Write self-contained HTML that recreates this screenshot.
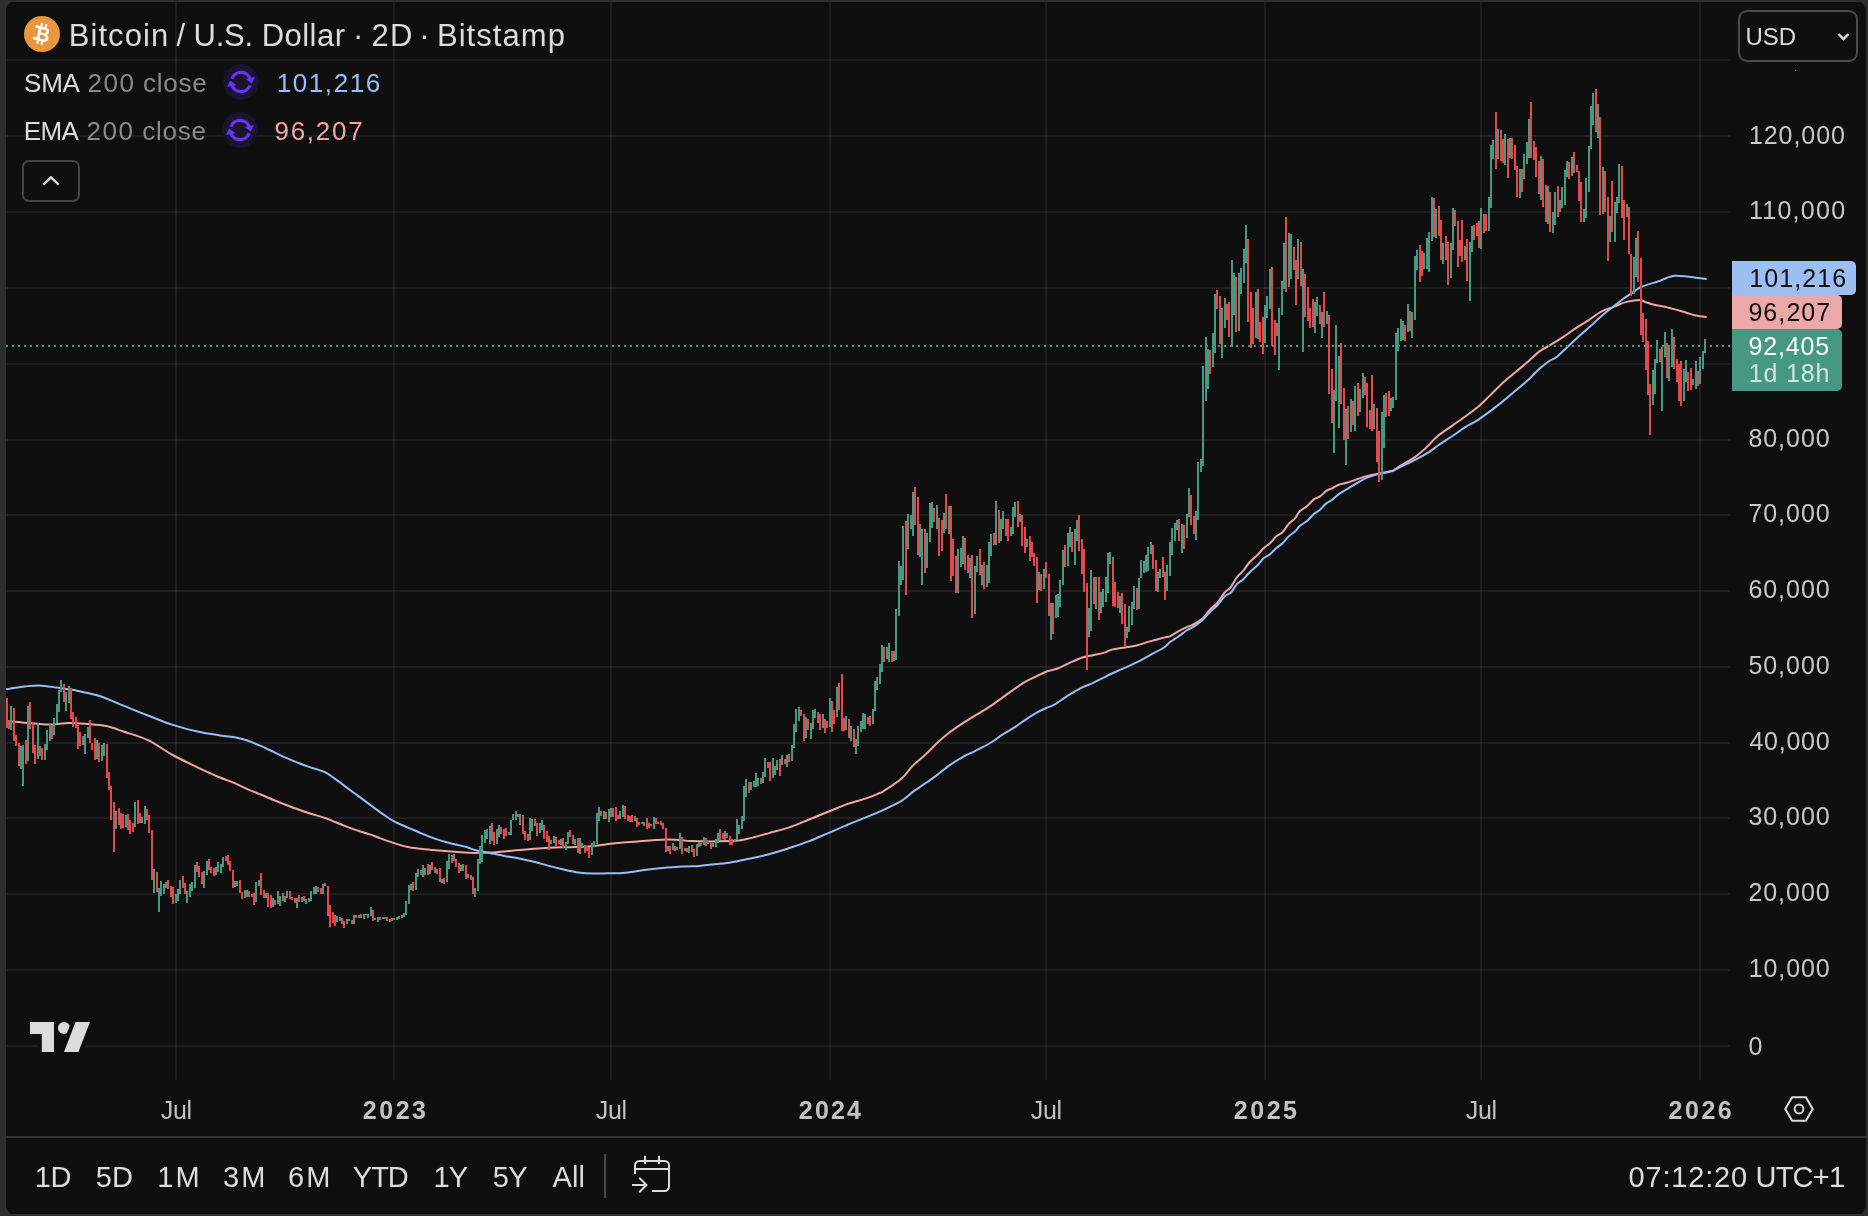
<!DOCTYPE html>
<html><head><meta charset="utf-8"><title>BTCUSD chart</title>
<style>
html,body{margin:0;padding:0;}
body{width:1868px;height:1216px;background:#2e2e2e;overflow:hidden;position:relative;font-family:"Liberation Sans",sans-serif;}
.panel{position:absolute;left:6px;top:2px;width:1860px;height:1212px;background:#0f0f0f;border-radius:8px;}
.chart{position:absolute;left:0;top:0;}
.abs{position:absolute;white-space:nowrap;}
.tx{position:absolute;white-space:pre;line-height:40px;font-family:"Liberation Sans",sans-serif;}
.box{position:absolute;left:1732px;border-radius:0 5px 5px 0;}
</style></head><body>
<div class="panel"></div>
<div style="position:absolute;left:0;top:0;width:1868px;height:1216px;will-change:transform">
<svg class="chart" width="1868" height="1216" viewBox="0 0 1868 1216" shape-rendering="crispEdges">
<g fill="#f2f2f2" fill-opacity="0.065"><rect x="6" y="1045" width="1724" height="2"/><rect x="6" y="969" width="1724" height="2"/><rect x="6" y="893" width="1724" height="2"/><rect x="6" y="817" width="1724" height="2"/><rect x="6" y="742" width="1724" height="2"/><rect x="6" y="666" width="1724" height="2"/><rect x="6" y="590" width="1724" height="2"/><rect x="6" y="514" width="1724" height="2"/><rect x="6" y="439" width="1724" height="2"/><rect x="6" y="363" width="1724" height="2"/><rect x="6" y="287" width="1724" height="2"/><rect x="6" y="211" width="1724" height="2"/><rect x="6" y="135" width="1724" height="2"/><rect x="6" y="59" width="1724" height="2"/><rect x="175" y="2" width="2" height="1078"/><rect x="393" y="2" width="2" height="1078"/><rect x="610" y="2" width="2" height="1078"/><rect x="829" y="2" width="2" height="1078"/><rect x="1045" y="2" width="2" height="1078"/><rect x="1264" y="2" width="2" height="1078"/><rect x="1480" y="2" width="2" height="1078"/><rect x="1699" y="2" width="2" height="1078"/></g>
<g fill="none" stroke-width="2" stroke-linejoin="round" stroke-linecap="butt" shape-rendering="geometricPrecision">
<path stroke="#f0a5a6" d="M6.2 720.8C9.3 721.1 17.5 722.1 24.7 722.7C31.9 723.3 41.9 724.6 49.3 724.6C56.7 724.6 62.4 723.0 69.0 722.9C75.6 722.8 82.6 723.6 88.8 724.1C95.0 724.6 100.2 724.9 106.0 726.1C111.8 727.3 116.3 729.1 123.3 731.5C130.3 733.9 139.8 736.3 148.0 740.2C156.2 744.1 164.5 750.5 172.7 755.0C180.9 759.5 189.4 763.5 197.3 767.3C205.2 771.0 214.0 775.0 220.0 777.5C226.0 780.0 228.9 780.7 233.4 782.6C237.9 784.5 242.4 787.0 246.8 788.9C251.2 790.8 255.7 792.4 260.1 794.3C264.6 796.1 269.5 798.3 273.5 800.0C277.5 801.7 280.6 802.9 284.2 804.3C287.8 805.7 290.9 806.8 294.9 808.3C298.9 809.8 303.4 811.4 308.3 813.0C313.2 814.6 319.9 816.2 324.4 817.7C328.9 819.2 331.5 820.5 335.1 822.0C338.7 823.5 341.8 824.9 345.8 826.4C349.8 827.9 355.2 829.8 359.2 831.1C363.2 832.4 366.3 833.2 369.9 834.4C373.5 835.6 376.6 836.9 380.6 838.4C384.6 839.9 389.5 841.7 394.0 843.1C398.5 844.5 402.9 846.0 407.4 846.9C411.9 847.8 416.4 848.2 420.8 848.7C425.2 849.2 429.7 849.7 434.1 850.1C438.6 850.5 443.0 850.9 447.5 851.2C452.0 851.6 457.5 852.0 460.9 852.2C464.3 852.5 465.7 852.6 468.0 852.7C470.3 852.8 471.2 852.9 474.8 852.9C478.4 852.9 484.7 852.8 489.6 852.5C494.5 852.2 499.5 851.8 504.4 851.4C509.3 851.0 514.3 850.4 519.2 850.0C524.1 849.6 529.1 849.2 534.0 848.8C538.9 848.4 543.9 848.0 548.8 847.7C553.7 847.5 558.7 847.4 563.6 847.3C568.5 847.2 573.5 847.2 578.4 847.0C583.3 846.8 588.3 846.8 593.3 846.3C598.2 845.8 603.2 844.6 608.1 844.0C613.0 843.4 618.0 842.9 622.9 842.5C627.8 842.1 632.8 841.8 637.7 841.4C642.6 841.0 647.6 840.6 652.5 840.3C657.4 840.0 662.4 839.6 667.3 839.6C672.2 839.6 678.3 840.1 682.1 840.3C685.9 840.5 685.4 840.8 690.0 841.0C694.6 841.2 703.1 841.4 709.7 841.4C716.3 841.4 724.5 841.2 729.5 841.0C734.5 840.8 736.1 840.8 739.4 840.4C742.7 840.0 744.3 839.6 749.2 838.4C754.1 837.2 762.4 834.9 769.0 833.1C775.6 831.3 782.1 829.8 788.7 827.6C795.3 825.4 801.9 822.3 808.5 819.7C815.1 817.1 821.6 814.4 828.2 811.8C834.8 809.2 841.3 806.2 847.9 803.9C854.5 801.6 862.4 799.7 867.7 797.9C873.0 796.1 877.0 794.1 879.5 793.0C882.0 791.9 879.4 793.9 883.0 791.5C886.6 789.1 896.4 783.0 901.4 778.7C906.4 774.4 908.8 769.7 912.9 765.6C917.0 761.5 922.0 757.9 926.1 754.0C930.2 750.1 933.8 746.0 937.6 742.5C941.4 739.0 945.0 735.9 949.1 732.7C953.2 729.6 957.8 726.5 962.2 723.6C966.6 720.7 970.7 718.3 975.4 715.4C980.1 712.5 985.8 709.2 990.2 706.3C994.6 703.4 997.9 700.8 1001.7 698.1C1005.5 695.4 1009.4 692.5 1013.2 689.9C1017.0 687.2 1020.9 684.5 1024.7 682.2C1028.5 680.0 1032.7 678.1 1036.3 676.4C1039.9 674.7 1042.5 673.1 1046.1 671.8C1049.6 670.5 1053.8 670.0 1057.6 668.5C1061.4 667.0 1065.0 664.9 1069.1 663.1C1073.2 661.3 1078.4 658.8 1082.3 657.5C1086.2 656.2 1088.6 656.2 1092.2 655.4C1095.8 654.6 1100.4 653.9 1103.7 652.9C1107.0 651.9 1108.3 650.5 1111.9 649.6C1115.5 648.7 1121.0 648.3 1125.1 647.6C1129.2 646.9 1132.5 646.5 1136.6 645.5C1140.7 644.5 1145.1 642.7 1149.7 641.4C1154.3 640.1 1160.6 638.5 1164.0 637.6C1167.4 636.8 1167.7 637.3 1170.0 636.3C1172.3 635.3 1174.9 633.2 1177.8 631.6C1180.7 630.0 1184.6 628.1 1187.2 626.9C1189.8 625.7 1190.8 625.9 1193.4 624.5C1196.0 623.1 1199.9 620.9 1202.8 618.3C1205.7 615.7 1208.2 611.4 1210.6 608.9C1212.9 606.4 1214.6 606.1 1216.9 603.4C1219.2 600.7 1222.4 595.2 1224.7 592.5C1227.0 589.8 1228.8 589.6 1230.9 587.0C1233.0 584.4 1235.1 579.6 1237.2 576.9C1239.3 574.2 1241.3 573.1 1243.4 570.6C1245.5 568.1 1247.4 564.6 1249.7 562.0C1252.0 559.4 1255.2 557.3 1257.5 555.0C1259.8 552.7 1261.7 550.0 1263.8 548.0C1265.9 546.0 1267.9 545.2 1270.0 543.3C1272.1 541.3 1274.2 538.1 1276.3 536.3C1278.4 534.5 1280.4 534.4 1282.5 532.3C1284.6 530.2 1286.7 526.1 1288.8 523.8C1290.9 521.5 1293.2 520.4 1295.0 518.3C1296.8 516.2 1297.6 513.4 1299.7 511.3C1301.8 509.2 1305.2 507.8 1307.5 505.8C1309.8 503.8 1311.7 501.1 1313.8 499.5C1315.9 497.9 1317.9 497.8 1320.0 496.4C1322.1 495.0 1324.2 492.3 1326.3 490.9C1328.4 489.5 1330.4 489.1 1332.5 488.1C1334.6 487.1 1336.5 485.6 1338.8 484.7C1341.1 483.8 1344.0 483.5 1346.6 482.8C1349.2 482.1 1351.5 481.3 1354.4 480.3C1357.3 479.3 1360.9 477.8 1363.8 476.9C1366.7 476.0 1369.0 475.6 1371.6 475.0C1374.2 474.4 1376.5 473.9 1379.4 473.4C1382.3 472.9 1386.5 472.4 1388.8 471.9C1391.1 471.4 1391.5 471.6 1393.4 470.6C1395.3 469.6 1396.3 468.2 1400.0 465.9C1403.7 463.6 1411.2 459.7 1415.6 456.6C1420.0 453.5 1422.9 450.6 1426.6 447.2C1430.2 443.8 1433.3 439.8 1437.5 436.3C1441.7 432.8 1447.2 429.3 1451.6 426.1C1456.0 422.9 1459.9 420.2 1464.1 417.2C1468.3 414.2 1472.4 411.6 1476.6 408.1C1480.8 404.6 1484.9 400.4 1489.1 396.4C1493.3 392.4 1497.4 387.8 1501.6 383.9C1505.8 380.0 1509.9 376.8 1514.1 373.3C1518.3 369.8 1522.4 366.4 1526.6 362.8C1530.8 359.2 1535.3 354.5 1539.1 351.6C1542.9 348.7 1545.0 348.2 1549.2 345.6C1553.4 343.1 1559.5 339.3 1564.1 336.3C1568.7 333.3 1572.4 330.4 1576.6 327.7C1580.8 324.9 1584.9 322.5 1589.1 319.8C1593.3 317.1 1597.4 313.5 1601.6 311.3C1605.8 309.1 1609.9 308.2 1614.1 306.6C1618.3 305.0 1622.3 303.0 1626.6 301.9C1630.9 300.8 1637.0 300.0 1640.0 300.0C1643.0 300.0 1642.2 301.0 1644.6 301.8C1646.9 302.6 1650.3 303.9 1654.1 304.8C1657.9 305.7 1663.5 306.5 1667.3 307.4C1671.1 308.2 1673.6 309.0 1676.8 309.9C1680.0 310.8 1683.1 311.8 1686.3 312.7C1689.5 313.6 1692.3 314.9 1695.7 315.6C1699.1 316.3 1704.9 316.9 1706.7 317.1"/>
<path stroke="#98bdf6" d="M6.2 689.1C9.3 688.7 19.1 687.2 24.7 686.6C30.2 686.0 34.2 685.2 39.5 685.4C44.8 685.6 51.0 686.8 56.7 687.6C62.5 688.4 67.0 688.7 74.0 690.1C81.0 691.5 90.5 693.2 98.7 695.8C106.9 698.4 115.1 702.3 123.3 705.6C131.5 708.9 139.8 712.3 148.0 715.5C156.2 718.7 164.5 722.2 172.7 724.9C180.9 727.6 189.4 729.8 197.3 731.5C205.2 733.2 213.5 734.4 220.0 735.4C226.5 736.4 231.6 736.6 236.1 737.4C240.6 738.2 242.8 738.9 246.8 740.3C250.8 741.7 255.7 743.8 260.1 745.7C264.6 747.6 269.0 749.8 273.5 751.9C278.0 754.0 282.9 756.3 286.9 758.1C290.9 759.9 294.0 761.2 297.6 762.6C301.2 764.0 303.8 765.1 308.3 766.6C312.8 768.1 319.9 769.9 324.4 771.9C328.9 773.9 331.5 776.4 335.1 778.9C338.7 781.4 341.8 783.9 345.8 786.9C349.8 789.9 355.2 793.6 359.2 796.6C363.2 799.6 365.9 801.6 369.9 804.6C373.9 807.6 379.3 811.6 383.3 814.4C387.3 817.2 390.0 819.2 394.0 821.4C398.0 823.5 402.9 825.3 407.4 827.3C411.9 829.2 416.4 831.2 420.8 833.1C425.2 835.0 429.7 836.8 434.1 838.4C438.6 840.0 443.5 841.4 447.5 842.5C451.5 843.6 454.8 844.3 458.2 845.1C461.6 845.9 465.2 846.7 468.0 847.5C470.8 848.3 471.2 849.1 474.8 850.0C478.4 850.9 484.7 851.9 489.6 852.9C494.5 853.9 499.5 855.0 504.4 855.9C509.3 856.8 514.3 857.4 519.2 858.4C524.1 859.4 529.1 860.5 534.0 861.8C538.9 863.0 543.9 864.6 548.8 865.9C553.7 867.2 558.7 868.4 563.6 869.5C568.5 870.6 573.5 871.8 578.4 872.5C583.3 873.2 588.3 873.5 593.3 873.6C598.2 873.7 603.2 873.4 608.1 873.3C613.0 873.2 618.0 873.3 622.9 872.9C627.8 872.5 632.8 871.7 637.7 871.0C642.6 870.3 647.6 869.5 652.5 868.9C657.4 868.3 662.4 867.8 667.3 867.4C672.2 867.0 676.6 866.8 682.1 866.5C687.6 866.2 695.4 866.2 700.0 865.9C704.6 865.6 704.8 865.2 709.7 864.7C714.6 864.2 722.9 863.7 729.5 862.7C736.1 861.7 742.6 860.2 749.2 858.8C755.8 857.4 762.4 856.0 769.0 854.2C775.6 852.5 782.1 850.4 788.7 848.3C795.3 846.2 801.9 843.9 808.5 841.4C815.1 838.9 821.6 835.9 828.2 833.1C834.8 830.3 841.3 827.3 847.9 824.6C854.5 821.9 861.9 819.1 867.7 816.7C873.6 814.3 877.4 812.7 883.0 810.1C888.6 807.5 896.4 803.9 901.4 800.9C906.4 797.9 908.8 794.9 912.9 791.9C917.0 788.9 922.0 785.7 926.1 782.8C930.2 779.9 933.8 777.5 937.6 774.6C941.4 771.7 945.0 768.5 949.1 765.6C953.2 762.7 957.8 759.8 962.2 757.3C966.6 754.8 970.7 753.2 975.4 750.8C980.1 748.4 985.8 745.6 990.2 743.0C994.6 740.4 997.9 737.6 1001.7 735.1C1005.5 732.6 1009.4 730.7 1013.2 728.2C1017.0 725.7 1020.9 722.8 1024.7 720.3C1028.5 717.8 1032.7 714.9 1036.3 712.9C1039.9 710.9 1043.1 709.4 1046.1 708.0C1049.1 706.6 1050.5 706.9 1054.3 704.7C1058.1 702.5 1064.4 697.7 1069.1 694.8C1073.8 691.9 1078.4 689.3 1082.3 687.4C1086.2 685.5 1088.6 684.9 1092.2 683.3C1095.8 681.7 1100.4 679.2 1103.7 677.6C1107.0 676.0 1108.3 675.1 1111.9 673.5C1115.5 671.9 1121.0 669.6 1125.1 667.7C1129.2 665.9 1132.5 664.5 1136.6 662.4C1140.7 660.3 1145.1 657.9 1149.7 655.4C1154.3 652.9 1160.6 649.7 1164.0 647.5C1167.4 645.3 1167.7 643.8 1170.0 642.0C1172.3 640.2 1174.9 639.0 1177.8 637.0C1180.7 635.0 1184.6 631.7 1187.2 630.0C1189.8 628.3 1190.8 628.6 1193.4 626.9C1196.0 625.2 1199.9 622.4 1202.8 619.8C1205.7 617.2 1208.2 613.6 1210.6 611.3C1212.9 609.0 1214.6 608.3 1216.9 605.8C1219.2 603.3 1222.4 598.6 1224.7 596.4C1227.0 594.2 1228.8 594.6 1230.9 592.5C1233.0 590.4 1235.1 586.1 1237.2 583.9C1239.3 581.7 1241.3 581.2 1243.4 579.2C1245.5 577.2 1247.4 574.5 1249.7 572.2C1252.0 569.9 1255.2 567.6 1257.5 565.2C1259.8 562.9 1261.7 559.9 1263.8 558.1C1265.9 556.3 1267.9 555.9 1270.0 554.2C1272.1 552.5 1274.2 549.8 1276.3 548.0C1278.4 546.2 1280.4 545.2 1282.5 543.3C1284.6 541.3 1286.7 538.2 1288.8 536.3C1290.9 534.3 1293.2 533.3 1295.0 531.6C1296.8 529.9 1297.6 527.9 1299.7 526.1C1301.8 524.3 1305.2 522.6 1307.5 520.6C1309.8 518.6 1311.7 515.9 1313.8 514.1C1315.9 512.3 1317.9 511.5 1320.0 509.7C1322.1 507.9 1324.2 505.1 1326.3 503.4C1328.4 501.7 1330.4 501.1 1332.5 499.5C1334.6 497.9 1336.5 495.8 1338.8 494.1C1341.1 492.4 1344.0 491.0 1346.6 489.4C1349.2 487.8 1351.5 486.4 1354.4 484.7C1357.3 483.0 1360.9 480.6 1363.8 479.2C1366.7 477.8 1369.0 477.0 1371.6 476.1C1374.2 475.2 1376.5 474.6 1379.4 473.8C1382.3 473.0 1386.5 471.9 1388.8 471.4C1391.1 470.9 1391.5 471.3 1393.4 470.6C1395.3 469.9 1396.3 468.8 1400.0 467.0C1403.7 465.2 1410.9 462.1 1415.6 459.7C1420.3 457.3 1424.2 455.2 1428.1 452.7C1432.0 450.2 1434.9 447.7 1439.1 444.8C1443.3 441.9 1448.7 438.5 1453.1 435.5C1457.5 432.5 1461.4 429.5 1465.6 426.9C1469.8 424.3 1473.9 422.5 1478.1 419.8C1482.3 417.1 1486.4 414.0 1490.6 410.9C1494.8 407.8 1498.9 404.5 1503.1 401.1C1507.3 397.7 1511.4 394.1 1515.6 390.6C1519.8 387.1 1524.2 383.6 1528.1 380.0C1532.0 376.4 1535.4 372.4 1539.1 369.1C1542.8 365.9 1547.1 362.5 1550.0 360.5C1552.9 358.5 1553.3 359.7 1556.3 357.3C1559.3 354.9 1564.4 349.8 1568.0 346.4C1571.6 343.0 1574.3 340.4 1578.1 337.0C1581.9 333.6 1586.7 329.6 1590.6 326.1C1594.5 322.6 1597.9 319.0 1601.6 315.9C1605.2 312.8 1608.9 310.1 1612.5 307.3C1616.1 304.5 1619.8 301.5 1623.4 298.8C1627.1 296.1 1631.6 293.2 1634.4 291.3C1637.2 289.4 1637.7 288.6 1640.0 287.5C1642.3 286.4 1645.4 285.4 1648.4 284.4C1651.4 283.4 1654.8 282.6 1657.9 281.5C1661.1 280.4 1664.5 278.6 1667.3 277.7C1670.1 276.8 1671.7 276.0 1674.9 275.8C1678.1 275.6 1682.8 276.1 1686.3 276.4C1689.8 276.7 1692.3 277.2 1695.7 277.7C1699.1 278.1 1704.9 278.9 1706.7 279.1"/>
</g>
<path fill="#479881" d="M10 706h2v24h-2zM20 746h2v23h-2zM22 745h2v41h-2zM27 706h2v55h-2zM37 723h2v36h-2zM44 744h2v16h-2zM46 730h2v20h-2zM49 724h2v17h-2zM53 718h2v17h-2zM56 704h2v19h-2zM58 690h2v22h-2zM60 680h2v12h-2zM65 692h2v19h-2zM68 686h2v17h-2zM82 736h2v9h-2zM84 734h2v20h-2zM87 727h2v11h-2zM96 740h2v19h-2zM101 745h2v16h-2zM103 743h2v13h-2zM115 811h2v18h-2zM125 815h2v12h-2zM134 802h2v25h-2zM141 817h2v6h-2zM144 806h2v18h-2zM153 869h2v24h-2zM158 888h2v24h-2zM160 881h2v15h-2zM163 884h2v10h-2zM165 882h2v6h-2zM175 894h2v9h-2zM177 889h2v12h-2zM179 880h2v14h-2zM186 891h2v12h-2zM189 884h2v13h-2zM191 882h2v9h-2zM194 865h2v23h-2zM203 871h2v17h-2zM206 861h2v14h-2zM215 867h2v8h-2zM217 862h2v10h-2zM220 864h2v9h-2zM222 857h2v10h-2zM234 881h2v6h-2zM236 881h2v5h-2zM244 890h2v8h-2zM246 890h2v7h-2zM255 882h2v20h-2zM258 880h2v6h-2zM265 893h2v5h-2zM272 898h2v9h-2zM277 891h2v13h-2zM279 896h2v10h-2zM284 896h2v6h-2zM286 891h2v7h-2zM296 898h2v10h-2zM301 897h2v5h-2zM305 899h2v5h-2zM308 898h2v4h-2zM310 891h2v10h-2zM313 887h2v7h-2zM315 886h2v8h-2zM322 884h2v10h-2zM336 916h2v6h-2zM339 917h2v4h-2zM346 919h2v5h-2zM348 919h2v2h-2zM353 915h2v9h-2zM358 915h2v3h-2zM363 914h2v5h-2zM365 914h2v1h-2zM367 914h2v4h-2zM370 907h2v9h-2zM374 918h2v2h-2zM377 917h2v5h-2zM382 917h2v2h-2zM384 917h2v2h-2zM389 919h2v3h-2zM393 918h2v2h-2zM396 917h2v3h-2zM398 916h2v3h-2zM401 915h2v3h-2zM403 913h2v4h-2zM405 901h2v14h-2zM408 885h2v19h-2zM410 884h2v6h-2zM415 873h2v17h-2zM417 869h2v8h-2zM422 865h2v12h-2zM424 868h2v7h-2zM429 865h2v9h-2zM436 869h2v5h-2zM441 879h2v4h-2zM446 861h2v21h-2zM448 854h2v15h-2zM453 854h2v7h-2zM460 865h2v6h-2zM462 864h2v7h-2zM467 874h2v4h-2zM474 888h2v9h-2zM477 859h2v32h-2zM479 846h2v18h-2zM481 835h2v27h-2zM484 830h2v13h-2zM486 829h2v10h-2zM489 826h2v18h-2zM496 829h2v15h-2zM498 825h2v12h-2zM508 832h2v3h-2zM510 820h2v15h-2zM512 814h2v6h-2zM515 811h2v9h-2zM519 814h2v11h-2zM529 818h2v22h-2zM531 819h2v12h-2zM539 823h2v10h-2zM541 820h2v10h-2zM550 840h2v4h-2zM553 836h2v7h-2zM560 839h2v6h-2zM565 842h2v8h-2zM567 832h2v12h-2zM574 839h2v6h-2zM579 838h2v16h-2zM581 843h2v4h-2zM591 843h2v12h-2zM593 841h2v6h-2zM596 813h2v31h-2zM598 807h2v14h-2zM603 811h2v8h-2zM608 809h2v13h-2zM610 808h2v9h-2zM619 811h2v8h-2zM622 805h2v12h-2zM634 816h2v5h-2zM641 822h2v2h-2zM643 822h2v4h-2zM653 817h2v12h-2zM667 846h2v5h-2zM672 843h2v7h-2zM676 847h2v3h-2zM679 833h2v16h-2zM684 848h2v3h-2zM688 846h2v7h-2zM696 844h2v12h-2zM698 842h2v5h-2zM703 837h2v8h-2zM707 841h2v3h-2zM712 843h2v4h-2zM715 839h2v8h-2zM717 833h2v10h-2zM724 831h2v9h-2zM734 839h2v3h-2zM736 819h2v21h-2zM738 825h2v9h-2zM741 816h2v13h-2zM743 786h2v35h-2zM745 779h2v18h-2zM750 782h2v8h-2zM753 781h2v6h-2zM755 773h2v14h-2zM757 778h2v8h-2zM762 772h2v11h-2zM764 758h2v19h-2zM772 758h2v20h-2zM774 766h2v9h-2zM776 760h2v10h-2zM781 755h2v10h-2zM786 755h2v12h-2zM791 745h2v16h-2zM793 724h2v24h-2zM795 709h2v23h-2zM798 707h2v14h-2zM805 717h2v21h-2zM810 723h2v16h-2zM812 710h2v19h-2zM814 709h2v9h-2zM822 714h2v14h-2zM829 698h2v29h-2zM836 687h2v30h-2zM845 716h2v14h-2zM850 726h2v15h-2zM855 739h2v15h-2zM857 726h2v20h-2zM860 721h2v11h-2zM862 713h2v16h-2zM864 714h2v15h-2zM872 709h2v15h-2zM874 681h2v30h-2zM876 677h2v13h-2zM879 664h2v20h-2zM881 645h2v27h-2zM886 647h2v12h-2zM888 643h2v19h-2zM893 651h2v10h-2zM895 609h2v51h-2zM898 561h2v55h-2zM900 566h2v19h-2zM902 526h2v54h-2zM907 514h2v35h-2zM910 515h2v14h-2zM912 492h2v44h-2zM919 524h2v33h-2zM921 529h2v56h-2zM926 533h2v35h-2zM929 503h2v39h-2zM931 502h2v26h-2zM936 505h2v24h-2zM943 513h2v20h-2zM948 506h2v28h-2zM957 549h2v44h-2zM960 548h2v19h-2zM962 536h2v28h-2zM969 558h2v20h-2zM974 566h2v48h-2zM976 556h2v16h-2zM981 565h2v20h-2zM986 565h2v22h-2zM988 542h2v41h-2zM990 534h2v22h-2zM995 501h2v44h-2zM1000 519h2v22h-2zM1002 511h2v18h-2zM1010 527h2v9h-2zM1012 507h2v27h-2zM1014 502h2v15h-2zM1019 514h2v8h-2zM1026 539h2v8h-2zM1038 572h2v18h-2zM1043 569h2v20h-2zM1050 603h2v37h-2zM1055 595h2v23h-2zM1057 594h2v23h-2zM1059 580h2v27h-2zM1062 550h2v35h-2zM1067 533h2v33h-2zM1069 527h2v20h-2zM1074 529h2v36h-2zM1076 520h2v21h-2zM1088 608h2v29h-2zM1090 570h2v61h-2zM1095 577h2v32h-2zM1100 592h2v21h-2zM1102 589h2v18h-2zM1105 577h2v25h-2zM1107 553h2v40h-2zM1109 552h2v12h-2zM1119 596h2v17h-2zM1126 627h2v11h-2zM1128 606h2v26h-2zM1131 602h2v23h-2zM1133 586h2v23h-2zM1138 578h2v31h-2zM1140 560h2v18h-2zM1143 561h2v12h-2zM1145 555h2v17h-2zM1147 547h2v24h-2zM1150 542h2v12h-2zM1157 572h2v20h-2zM1159 569h2v9h-2zM1166 565h2v26h-2zM1169 542h2v34h-2zM1171 528h2v27h-2zM1174 523h2v18h-2zM1176 520h2v10h-2zM1181 524h2v29h-2zM1186 514h2v24h-2zM1188 488h2v29h-2zM1195 511h2v29h-2zM1197 462h2v58h-2zM1200 459h2v13h-2zM1202 366h2v100h-2zM1205 337h2v64h-2zM1207 349h2v40h-2zM1212 333h2v34h-2zM1214 294h2v59h-2zM1221 308h2v50h-2zM1224 298h2v30h-2zM1231 260h2v87h-2zM1233 273h2v42h-2zM1238 273h2v58h-2zM1240 268h2v26h-2zM1243 249h2v34h-2zM1245 225h2v38h-2zM1255 292h2v46h-2zM1264 305h2v38h-2zM1266 296h2v22h-2zM1269 269h2v40h-2zM1278 308h2v62h-2zM1281 281h2v34h-2zM1283 243h2v46h-2zM1288 233h2v54h-2zM1290 234h2v45h-2zM1297 239h2v40h-2zM1302 269h2v83h-2zM1314 302h2v31h-2zM1316 297h2v19h-2zM1321 312h2v26h-2zM1326 311h2v13h-2zM1333 390h2v63h-2zM1335 325h2v76h-2zM1338 356h2v72h-2zM1345 409h2v56h-2zM1350 399h2v33h-2zM1354 386h2v45h-2zM1359 389h2v23h-2zM1362 373h2v25h-2zM1373 404h2v25h-2zM1381 412h2v68h-2zM1383 395h2v53h-2zM1390 398h2v13h-2zM1392 397h2v11h-2zM1395 333h2v67h-2zM1397 328h2v23h-2zM1400 319h2v22h-2zM1402 321h2v19h-2zM1407 304h2v28h-2zM1411 312h2v26h-2zM1414 256h2v64h-2zM1416 250h2v20h-2zM1423 253h2v16h-2zM1426 238h2v31h-2zM1428 232h2v40h-2zM1431 197h2v44h-2zM1435 209h2v29h-2zM1442 243h2v21h-2zM1450 243h2v35h-2zM1452 208h2v42h-2zM1464 246h2v14h-2zM1469 242h2v59h-2zM1471 226h2v26h-2zM1480 208h2v41h-2zM1488 197h2v34h-2zM1490 145h2v63h-2zM1492 140h2v19h-2zM1497 129h2v30h-2zM1504 134h2v31h-2zM1509 138h2v20h-2zM1519 169h2v29h-2zM1523 154h2v25h-2zM1526 142h2v22h-2zM1528 119h2v39h-2zM1540 156h2v44h-2zM1547 186h2v38h-2zM1552 212h2v21h-2zM1554 192h2v33h-2zM1559 200h2v12h-2zM1561 187h2v21h-2zM1564 170h2v35h-2zM1566 161h2v16h-2zM1571 157h2v19h-2zM1583 209h2v13h-2zM1585 178h2v40h-2zM1588 146h2v46h-2zM1590 106h2v43h-2zM1592 93h2v32h-2zM1597 104h2v34h-2zM1602 167h2v47h-2zM1609 216h2v26h-2zM1614 202h2v40h-2zM1616 197h2v16h-2zM1618 164h2v39h-2zM1626 204h2v13h-2zM1633 257h2v37h-2zM1635 238h2v39h-2zM1652 370h2v35h-2zM1654 359h2v35h-2zM1656 340h2v23h-2zM1661 347h2v64h-2zM1664 332h2v25h-2zM1668 345h2v36h-2zM1671 329h2v38h-2zM1683 369h2v32h-2zM1685 360h2v22h-2zM1692 379h2v6h-2zM1695 361h2v28h-2zM1699 357h2v27h-2zM1702 351h2v18h-2zM1704 339h2v14h-2z"/><path fill="#e2494f" d="M6 698h2v30h-2zM8 720h2v9h-2zM13 708h2v33h-2zM15 735h2v11h-2zM18 743h2v23h-2zM25 740h2v24h-2zM29 702h2v27h-2zM32 723h2v30h-2zM34 745h2v19h-2zM39 746h2v10h-2zM41 748h2v12h-2zM51 725h2v14h-2zM63 684h2v18h-2zM70 688h2v31h-2zM72 712h2v15h-2zM75 717h2v11h-2zM77 725h2v24h-2zM79 732h2v14h-2zM89 720h2v23h-2zM91 743h2v7h-2zM94 738h2v22h-2zM98 743h2v19h-2zM106 744h2v34h-2zM108 772h2v18h-2zM110 786h2v34h-2zM113 802h2v50h-2zM118 808h2v17h-2zM120 813h2v16h-2zM122 814h2v14h-2zM127 814h2v16h-2zM129 820h2v14h-2zM132 823h2v9h-2zM137 800h2v24h-2zM139 813h2v10h-2zM146 809h2v11h-2zM148 815h2v18h-2zM151 830h2v50h-2zM156 872h2v20h-2zM167 880h2v9h-2zM170 886h2v11h-2zM172 887h2v17h-2zM182 876h2v12h-2zM184 883h2v11h-2zM196 862h2v10h-2zM198 866h2v11h-2zM201 872h2v12h-2zM208 859h2v11h-2zM210 867h2v6h-2zM213 868h2v8h-2zM225 856h2v5h-2zM227 855h2v10h-2zM229 861h2v10h-2zM232 870h2v18h-2zM239 880h2v13h-2zM241 892h2v7h-2zM248 891h2v6h-2zM251 894h2v3h-2zM253 893h2v12h-2zM260 873h2v22h-2zM263 890h2v8h-2zM267 893h2v14h-2zM270 895h2v13h-2zM274 900h2v5h-2zM282 893h2v8h-2zM289 891h2v8h-2zM291 897h2v3h-2zM294 898h2v5h-2zM298 895h2v7h-2zM303 896h2v5h-2zM317 887h2v5h-2zM320 888h2v6h-2zM324 883h2v3h-2zM327 886h2v30h-2zM329 905h2v22h-2zM332 912h2v11h-2zM334 915h2v11h-2zM341 918h2v6h-2zM343 921h2v7h-2zM351 920h2v4h-2zM355 915h2v3h-2zM360 914h2v4h-2zM372 910h2v11h-2zM379 917h2v3h-2zM386 917h2v4h-2zM391 918h2v3h-2zM412 882h2v9h-2zM420 870h2v5h-2zM427 864h2v11h-2zM431 862h2v8h-2zM434 867h2v6h-2zM439 868h2v14h-2zM443 878h2v6h-2zM451 855h2v8h-2zM455 859h2v8h-2zM458 863h2v10h-2zM465 865h2v14h-2zM470 875h2v5h-2zM472 877h2v17h-2zM491 823h2v18h-2zM493 832h2v13h-2zM500 827h2v7h-2zM503 829h2v10h-2zM505 828h2v8h-2zM517 814h2v3h-2zM522 815h2v19h-2zM524 831h2v9h-2zM527 834h2v7h-2zM534 819h2v7h-2zM536 823h2v13h-2zM543 825h2v14h-2zM546 831h2v11h-2zM548 836h2v14h-2zM555 837h2v9h-2zM558 840h2v4h-2zM562 838h2v10h-2zM569 830h2v7h-2zM572 835h2v9h-2zM577 838h2v15h-2zM584 845h2v8h-2zM586 846h2v5h-2zM588 847h2v11h-2zM600 811h2v5h-2zM605 812h2v7h-2zM612 808h2v9h-2zM615 807h2v14h-2zM617 815h2v4h-2zM624 806h2v13h-2zM627 815h2v6h-2zM629 816h2v6h-2zM631 815h2v7h-2zM636 818h2v9h-2zM638 822h2v3h-2zM646 818h2v11h-2zM648 823h2v5h-2zM650 824h2v2h-2zM655 818h2v6h-2zM657 822h2v2h-2zM660 821h2v4h-2zM662 823h2v6h-2zM665 828h2v24h-2zM669 846h2v8h-2zM674 846h2v5h-2zM681 837h2v17h-2zM686 848h2v4h-2zM691 845h2v7h-2zM693 849h2v8h-2zM700 843h2v3h-2zM705 838h2v8h-2zM710 843h2v6h-2zM719 829h2v11h-2zM722 833h2v6h-2zM726 833h2v5h-2zM729 836h2v9h-2zM731 839h2v6h-2zM748 782h2v11h-2zM760 778h2v6h-2zM767 762h2v6h-2zM769 762h2v19h-2zM779 759h2v17h-2zM784 759h2v5h-2zM788 754h2v8h-2zM800 710h2v6h-2zM803 714h2v27h-2zM807 719h2v11h-2zM817 712h2v11h-2zM819 714h2v16h-2zM824 719h2v14h-2zM826 721h2v7h-2zM831 701h2v31h-2zM833 710h2v14h-2zM838 683h2v27h-2zM841 674h2v57h-2zM843 718h2v13h-2zM848 719h2v19h-2zM853 729h2v18h-2zM867 717h2v7h-2zM869 716h2v10h-2zM883 647h2v15h-2zM891 651h2v11h-2zM905 521h2v74h-2zM914 487h2v38h-2zM917 497h2v58h-2zM924 529h2v44h-2zM933 508h2v14h-2zM938 518h2v38h-2zM941 520h2v31h-2zM945 494h2v35h-2zM950 506h2v75h-2zM952 539h2v37h-2zM955 556h2v37h-2zM964 538h2v32h-2zM967 555h2v18h-2zM971 555h2v63h-2zM979 549h2v26h-2zM983 562h2v27h-2zM993 533h2v12h-2zM998 510h2v33h-2zM1005 519h2v17h-2zM1007 519h2v22h-2zM1017 501h2v26h-2zM1021 515h2v31h-2zM1024 527h2v26h-2zM1029 536h2v25h-2zM1031 542h2v15h-2zM1033 553h2v13h-2zM1036 557h2v46h-2zM1040 574h2v17h-2zM1045 562h2v16h-2zM1048 574h2v42h-2zM1052 603h2v31h-2zM1064 545h2v22h-2zM1071 532h2v20h-2zM1078 515h2v36h-2zM1081 539h2v35h-2zM1083 549h2v43h-2zM1086 583h2v87h-2zM1093 577h2v27h-2zM1098 577h2v43h-2zM1112 557h2v49h-2zM1114 582h2v25h-2zM1117 592h2v16h-2zM1121 593h2v31h-2zM1124 604h2v43h-2zM1136 588h2v22h-2zM1152 545h2v24h-2zM1155 560h2v31h-2zM1162 557h2v20h-2zM1164 572h2v28h-2zM1178 519h2v22h-2zM1183 525h2v24h-2zM1190 495h2v30h-2zM1193 516h2v18h-2zM1209 350h2v24h-2zM1216 290h2v19h-2zM1219 296h2v48h-2zM1226 304h2v16h-2zM1228 302h2v35h-2zM1235 277h2v55h-2zM1247 239h2v83h-2zM1250 292h2v56h-2zM1252 308h2v36h-2zM1257 289h2v50h-2zM1259 322h2v20h-2zM1262 317h2v37h-2zM1271 267h2v79h-2zM1274 320h2v35h-2zM1276 323h2v13h-2zM1285 217h2v75h-2zM1293 247h2v23h-2zM1295 260h2v45h-2zM1300 242h2v44h-2zM1304 274h2v43h-2zM1307 287h2v34h-2zM1309 308h2v20h-2zM1312 299h2v28h-2zM1319 305h2v19h-2zM1323 292h2v35h-2zM1328 315h2v79h-2zM1331 369h2v54h-2zM1340 343h2v61h-2zM1343 388h2v52h-2zM1347 406h2v33h-2zM1352 401h2v24h-2zM1357 383h2v33h-2zM1364 377h2v18h-2zM1366 383h2v44h-2zM1369 410h2v19h-2zM1371 375h2v56h-2zM1376 408h2v54h-2zM1378 431h2v51h-2zM1385 393h2v24h-2zM1388 391h2v25h-2zM1404 325h2v16h-2zM1409 311h2v20h-2zM1419 245h2v37h-2zM1421 251h2v25h-2zM1433 198h2v39h-2zM1438 206h2v30h-2zM1440 220h2v40h-2zM1445 236h2v24h-2zM1447 242h2v43h-2zM1454 210h2v16h-2zM1457 221h2v46h-2zM1459 240h2v16h-2zM1461 220h2v42h-2zM1466 239h2v42h-2zM1473 225h2v15h-2zM1476 223h2v13h-2zM1478 221h2v27h-2zM1483 214h2v19h-2zM1485 214h2v17h-2zM1495 112h2v57h-2zM1500 130h2v31h-2zM1502 139h2v24h-2zM1507 139h2v39h-2zM1511 138h2v21h-2zM1514 145h2v25h-2zM1516 166h2v31h-2zM1521 169h2v23h-2zM1530 102h2v56h-2zM1533 141h2v19h-2zM1535 147h2v30h-2zM1538 161h2v33h-2zM1542 159h2v48h-2zM1545 185h2v37h-2zM1549 192h2v40h-2zM1557 186h2v31h-2zM1568 162h2v17h-2zM1573 152h2v21h-2zM1576 165h2v7h-2zM1578 171h2v30h-2zM1580 182h2v40h-2zM1595 89h2v43h-2zM1599 117h2v98h-2zM1604 171h2v41h-2zM1607 197h2v64h-2zM1611 181h2v51h-2zM1621 166h2v52h-2zM1623 200h2v40h-2zM1628 207h2v47h-2zM1630 254h2v42h-2zM1637 231h2v51h-2zM1640 258h2v77h-2zM1642 313h2v29h-2zM1645 319h2v51h-2zM1647 341h2v54h-2zM1649 384h2v51h-2zM1659 349h2v13h-2zM1666 343h2v35h-2zM1673 337h2v32h-2zM1676 359h2v23h-2zM1678 364h2v37h-2zM1680 361h2v45h-2zM1687 372h2v19h-2zM1690 368h2v22h-2zM1697 371h2v15h-2z"/>
<line x1="6" x2="1730" y1="346" y2="346" stroke="#479881" stroke-width="2" stroke-dasharray="2 4"/>
</svg>
<div class="abs" style="left:24px;top:16px;width:36px;height:36px;border-radius:50%;background:#e9963d;"></div>
<svg class="abs" style="left:24px;top:16px" width="36" height="36" viewBox="0 0 36 36"><g transform="rotate(13 18 18)" fill="#fff"><text x="19.2" y="25.3" font-family="Liberation Sans" font-weight="bold" font-size="20.5" text-anchor="middle" textLength="13.6" lengthAdjust="spacingAndGlyphs">B</text><rect x="10.2" y="10.6" width="4" height="2.9"/><rect x="10.2" y="22.4" width="4" height="2.9"/><rect x="14.6" y="7.300" width="2.1" height="4"/><rect x="18.9" y="7.300" width="2.1" height="4"/><rect x="14.6" y="24.6" width="2.1" height="4"/><rect x="18.9" y="24.6" width="2.1" height="4"/></g></svg>
<div class="abs" style="left:223px;top:64px"><svg width="36" height="36" viewBox="0 0 36 36"><circle cx="18" cy="18" r="17.8" fill="#1c1330"/><g fill="none" stroke="#6535fb" stroke-width="3.3"><path d="M8.93 14.7A9.65 9.65 0 0 1 27.44 15.99"/><path d="M27.07 21.3A9.65 9.65 0 0 1 8.56 20.01"/></g><path fill="#6535fb" d="M22.6 15.0L32.0 13.0L28.9 19.6z"/><path fill="#6535fb" d="M13.4 21.0L4.0 23.0L7.1 16.4z"/></svg></div>
<div class="abs" style="left:222px;top:112px"><svg width="36" height="36" viewBox="0 0 36 36"><circle cx="18" cy="18" r="17.8" fill="#1c1330"/><g fill="none" stroke="#6535fb" stroke-width="3.3"><path d="M8.93 14.7A9.65 9.65 0 0 1 27.44 15.99"/><path d="M27.07 21.3A9.65 9.65 0 0 1 8.56 20.01"/></g><path fill="#6535fb" d="M22.6 15.0L32.0 13.0L28.9 19.6z"/><path fill="#6535fb" d="M13.4 21.0L4.0 23.0L7.1 16.4z"/></svg></div>
<div class="abs" style="left:22px;top:160px;width:54px;height:38px;border:2px solid #444;border-radius:7px;"></div>
<svg class="abs" style="left:41px;top:174.4px" width="20" height="14" viewBox="0 0 20 14"><path d="M2.300 10.600l7.700-7.200 7.700 7.200" fill="none" stroke="#dcdcdc" stroke-width="2.4"/></svg>

<div class="abs" style="left:1738px;top:10px;width:116px;height:48px;border:2px solid #4a4a4a;border-radius:9px;"></div>
<svg class="abs" style="left:1835.6px;top:30.8px" width="16" height="12" viewBox="0 0 16 12"><path d="M2.5 3l5 5 5-5" fill="none" stroke="#dcdcdc" stroke-width="2.4"/></svg>
<div class="abs" style="left:1794.7px;top:69.8px;width:1.5px;height:1.5px;border-radius:1px;background:#b8b8b8"></div>

<div class="box" style="top:261px;width:124px;height:34px;background:#9cbef3;"></div>
<div class="box" style="top:295px;width:110px;height:34px;background:#eca7a8;"></div>
<div class="box" style="top:329px;width:110px;height:62px;background:#479881;"></div>
<div class="tx" style="left:68.70px;top:15.65px;font-size:31px;color:#dcdcdc;letter-spacing:1.067px">Bitcoin</div>
<div class="tx" style="left:176.50px;top:15.65px;font-size:31px;color:#dcdcdc;letter-spacing:0.000px">/</div>
<div class="tx" style="left:193.50px;top:15.65px;font-size:31px;color:#dcdcdc;letter-spacing:-0.200px">U.S.</div>
<div class="tx" style="left:261.70px;top:15.65px;font-size:31px;color:#dcdcdc;letter-spacing:0.460px">Dollar</div>
<div class="tx" style="left:353.05px;top:15.65px;font-size:31px;color:#dcdcdc;letter-spacing:0.000px">·</div>
<div class="tx" style="left:371.60px;top:15.65px;font-size:31px;color:#dcdcdc;letter-spacing:1.200px">2D</div>
<div class="tx" style="left:419.25px;top:15.65px;font-size:31px;color:#dcdcdc;letter-spacing:0.000px">·</div>
<div class="tx" style="left:436.90px;top:15.65px;font-size:31px;color:#dcdcdc;letter-spacing:1.071px">Bitstamp</div>
<div class="tx" style="left:24.10px;top:62.50px;font-size:26px;color:#dcdcdc;letter-spacing:-0.250px">SMA</div>
<div class="tx" style="left:87.60px;top:62.50px;font-size:26px;color:#8a8a8a;letter-spacing:1.500px">200</div>
<div class="tx" style="left:143.10px;top:62.50px;font-size:26px;color:#8a8a8a;letter-spacing:0.750px">close</div>
<div class="tx" style="left:23.70px;top:110.60px;font-size:26px;color:#dcdcdc;letter-spacing:-0.600px">EMA</div>
<div class="tx" style="left:86.50px;top:110.60px;font-size:26px;color:#8a8a8a;letter-spacing:1.500px">200</div>
<div class="tx" style="left:142.20px;top:110.60px;font-size:26px;color:#8a8a8a;letter-spacing:0.750px">close</div>
<div class="tx" style="left:276.70px;top:62.50px;font-size:26px;color:#98bdf6;letter-spacing:1.600px">101,216</div>
<div class="tx" style="left:274.50px;top:110.60px;font-size:26px;color:#f0a5a6;letter-spacing:1.720px">96,207</div>
<div class="tx" style="left:1748.42px;top:1025.90px;font-size:25px;color:#c8c8c8;letter-spacing:0.000px">0</div>
<div class="tx" style="left:1748.70px;top:947.60px;font-size:25px;color:#c8c8c8;letter-spacing:0.900px">10,000</div>
<div class="tx" style="left:1748.40px;top:871.60px;font-size:25px;color:#c8c8c8;letter-spacing:0.960px">20,000</div>
<div class="tx" style="left:1748.40px;top:795.60px;font-size:25px;color:#c8c8c8;letter-spacing:0.960px">30,000</div>
<div class="tx" style="left:1749.40px;top:720.60px;font-size:25px;color:#c8c8c8;letter-spacing:0.760px">40,000</div>
<div class="tx" style="left:1748.40px;top:644.60px;font-size:25px;color:#c8c8c8;letter-spacing:0.960px">50,000</div>
<div class="tx" style="left:1748.40px;top:568.60px;font-size:25px;color:#c8c8c8;letter-spacing:0.960px">60,000</div>
<div class="tx" style="left:1748.40px;top:492.60px;font-size:25px;color:#c8c8c8;letter-spacing:0.960px">70,000</div>
<div class="tx" style="left:1748.40px;top:417.60px;font-size:25px;color:#c8c8c8;letter-spacing:0.960px">80,000</div>
<div class="tx" style="left:1748.90px;top:189.60px;font-size:25px;color:#c8c8c8;letter-spacing:1.283px">110,000</div>
<div class="tx" style="left:1748.90px;top:114.70px;font-size:25px;color:#c8c8c8;letter-spacing:0.950px">120,000</div>
<div class="tx" style="left:1749.30px;top:257.80px;font-size:25px;color:#0f0f0f;letter-spacing:1.100px">101,216</div>
<div class="tx" style="left:1748.40px;top:291.80px;font-size:25px;color:#0f0f0f;letter-spacing:1.080px">96,207</div>
<div class="tx" style="left:1748.40px;top:325.90px;font-size:25px;color:#ffffff;letter-spacing:0.880px">92,405</div>
<div class="tx" style="left:1748.70px;top:353.40px;font-size:25px;color:#cfe5de;letter-spacing:0.840px">1d 18h</div>
<div class="tx" style="left:160.70px;top:1089.70px;font-size:25px;color:#c2c2c2;letter-spacing:-0.250px">Jul</div>
<div class="tx" style="left:362.80px;top:1089.70px;font-size:25px;font-weight:bold;color:#c2c2c2;letter-spacing:2.533px">2023</div>
<div class="tx" style="left:595.70px;top:1089.70px;font-size:25px;color:#c2c2c2;letter-spacing:-0.250px">Jul</div>
<div class="tx" style="left:798.80px;top:1089.70px;font-size:25px;font-weight:bold;color:#c2c2c2;letter-spacing:2.200px">2024</div>
<div class="tx" style="left:1030.70px;top:1089.70px;font-size:25px;color:#c2c2c2;letter-spacing:-0.250px">Jul</div>
<div class="tx" style="left:1233.80px;top:1089.70px;font-size:25px;font-weight:bold;color:#c2c2c2;letter-spacing:2.533px">2025</div>
<div class="tx" style="left:1465.70px;top:1089.70px;font-size:25px;color:#c2c2c2;letter-spacing:-0.250px">Jul</div>
<div class="tx" style="left:1668.55px;top:1089.70px;font-size:25px;font-weight:bold;color:#c2c2c2;letter-spacing:2.533px">2026</div>
<div class="tx" style="left:34.70px;top:1157.20px;font-size:29px;color:#dcdcdc;letter-spacing:-0.300px">1D</div>
<div class="tx" style="left:95.70px;top:1157.20px;font-size:29px;color:#dcdcdc;letter-spacing:0.200px">5D</div>
<div class="tx" style="left:157.30px;top:1157.20px;font-size:29px;color:#dcdcdc;letter-spacing:2.000px">1M</div>
<div class="tx" style="left:223.05px;top:1157.20px;font-size:29px;color:#dcdcdc;letter-spacing:2.000px">3M</div>
<div class="tx" style="left:288.05px;top:1157.20px;font-size:29px;color:#dcdcdc;letter-spacing:2.000px">6M</div>
<div class="tx" style="left:352.80px;top:1157.20px;font-size:29px;color:#dcdcdc;letter-spacing:-1.000px">YTD</div>
<div class="tx" style="left:433.40px;top:1157.20px;font-size:29px;color:#dcdcdc;letter-spacing:-0.800px">1Y</div>
<div class="tx" style="left:492.80px;top:1157.20px;font-size:29px;color:#dcdcdc;letter-spacing:-0.600px">5Y</div>
<div class="tx" style="left:552.60px;top:1157.20px;font-size:29px;color:#dcdcdc;letter-spacing:0.000px">All</div>
<div class="tx" style="left:1745.60px;top:17.00px;font-size:24px;color:#dcdcdc;letter-spacing:-0.150px">USD</div>
<div class="tx" style="left:1628.50px;top:1156.50px;font-size:29px;color:#dcdcdc;letter-spacing:0.829px">07:12:20</div>
<div class="tx" style="left:1755.50px;top:1156.50px;font-size:29px;color:#dcdcdc;letter-spacing:-0.775px">UTC+1</div>

<svg class="abs" style="left:1782.8px;top:1093px" width="32" height="32" viewBox="0 0 32 32"><g fill="none" stroke="#dcdcdc" stroke-width="2"><path d="M2.3 16L9.150 4.140H22.850L29.700 16L22.850 27.860H9.150z"/><circle cx="16" cy="16" r="4.400"/></g></svg>

<svg class="abs" style="left:28px;top:1020px;overflow:visible" width="66" height="34" viewBox="0 0 66 34"><g fill="#dcdcdc" stroke="#0f0f0f" stroke-width="8" paint-order="stroke" stroke-linejoin="round"><rect x="24" y="22" width="16" height="8" stroke="none" fill="#0f0f0f"/><path d="M2 2h24v30h-12.2v-18.1h-11.8z"/><circle cx="36" cy="8" r="6.1"/><path d="M47.500 2h14.500l-11.600 30h-14.400z"/></g></svg>

<div class="abs" style="left:6px;top:1136px;width:1860px;height:2px;background:#353535"></div>
<div class="abs" style="left:604px;top:1154px;width:2px;height:44px;background:#4a4a4a"></div>
<svg class="abs" style="left:626px;top:1150px" width="52" height="48" viewBox="0 0 52 48"><g fill="none" stroke="#dcdcdc" stroke-width="2"><path d="M9 24v-8.500a4.500 4.500 0 0 1 4.500-4.500h25a4.500 4.500 0 0 1 4.500 4.500v21a4.500 4.500 0 0 1-4.500 4.500h-12.500"/><path d="M9 19h34"/><path d="M19 5.700v8.400M33 5.700v8.400"/><path d="M6 35h14.500M13.200 27.700l7.300 7.300-7.300 7.300"/></g></svg>
</div>
</body></html>
